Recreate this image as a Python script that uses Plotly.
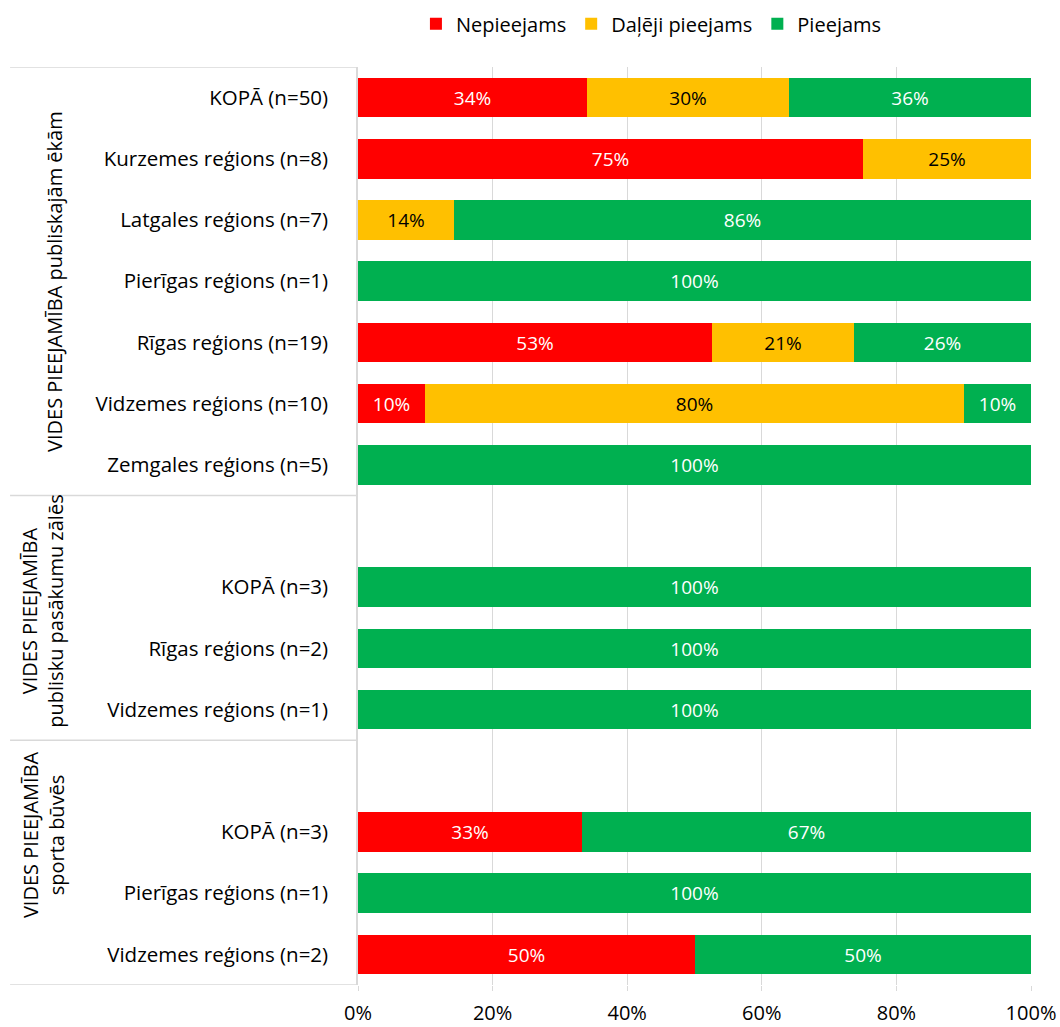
import plotly.graph_objects as go

FONT = "Open Sans"

# ---- data ----
group1_labels = ["KOPĀ (n=50)", "Kurzemes reģions (n=8)", "Latgales reģions (n=7)",
                 "Pierīgas reģions (n=1)", "Rīgas reģions (n=19)", "Vidzemes reģions (n=10)",
                 "Zemgales reģions (n=5)"]
group1_nep = [34, 75, 0, 0, 52.6, 10, 0]
group1_dal = [30, 25, 14.3, 0, 21.1, 80, 0]
group1_pie = [36, 0, 85.7, 100, 26.3, 10, 100]

group2_labels = ["KOPĀ (n=3)", "Rīgas reģions (n=2)", "Vidzemes reģions (n=1)"]
group2_nep = [0, 0, 0]
group2_dal = [0, 0, 0]
group2_pie = [100, 100, 100]

group3_labels = ["KOPĀ (n=3)", "Pierīgas reģions (n=1)", "Vidzemes reģions (n=2)"]
group3_nep = [33.3, 0, 50]
group3_dal = [0, 0, 0]
group3_pie = [66.7, 100, 50]

group_titles = ["VIDES PIEEJAMĪBA publiskajām ēkām",
                "VIDES PIEEJAMĪBA<br>publisku pasākumu zālēs",
                "VIDES PIEEJAMĪBA<br>sporta būvēs"]

series_names = ["Nepieejams", "Daļēji pieejams", "Pieejams"]
series_colors = ["#FF0000", "#FFC000", "#00B050"]
text_colors = ["white", "black", "white"]
x_ticks = [0, 20, 40, 60, 80, 100]
x_ticktext = ["0%", "20%", "40%", "60%", "80%", "100%"]

# ---- layout helpers (positions only) ----
title_y = [3.0, 8.4, 12.05]
title_x = [-0.452, -0.468, -0.468]

groups = [
    (group1_labels, [group1_nep, group1_dal, group1_pie], 0),
    (group2_labels, [group2_nep, group2_dal, group2_pie], 1),
    (group3_labels, [group3_nep, group3_dal, group3_pie], 1),
]
ypos, ylab = [], []
vals = [[], [], []]
bounds = [-0.5]
cur = 0
for labels, series, blank in groups:
    cur += blank
    for i, lab in enumerate(labels):
        ypos.append(cur)
        ylab.append(lab)
        for s in range(3):
            vals[s].append(series[s][i])
        cur += 1
    bounds.append(cur - 0.5)

fig = go.Figure()
for s in range(3):
    txt = [f"{round(v)}%" if v > 0 else "" for v in vals[s]]
    fig.add_trace(go.Bar(
        y=ypos, x=vals[s], orientation="h", name=series_names[s],
        marker=dict(color=series_colors[s], line=dict(width=0)),
        text=txt, textposition="inside", insidetextanchor="middle",
        textfont=dict(color=text_colors[s], size=19, family=FONT),
        width=0.65,
    ))

shapes = []
for b in bounds:
    shapes.append(dict(type="line", xref="paper", yref="y", x0=-0.517, x1=0, y0=b, y1=b,
                       line=dict(color="#D9D9D9", width=1.5)))

annotations = []
for t, tx, ty in zip(group_titles, title_x, title_y):
    annotations.append(dict(xref="paper", yref="y", x=tx, y=ty,
                            text=t, textangle=-90, showarrow=False,
                            font=dict(size=20, family=FONT, color="black"),
                            xanchor="center", yanchor="middle"))

fig.update_layout(
    barmode="stack",
    width=1060, height=1027,
    margin=dict(l=358, r=29, t=67, b=42, autoexpand=False),
    paper_bgcolor="white", plot_bgcolor="white",
    font=dict(family=FONT, size=20, color="black"),
    legend=dict(orientation="h", x=0.436, xanchor="center", y=1.047, yanchor="middle",
                font=dict(size=20, family=FONT), traceorder="normal", itemwidth=30),
    shapes=shapes, annotations=annotations,
    xaxis=dict(range=[0, 100], tickvals=x_ticks, ticktext=x_ticktext,
               showgrid=True, gridcolor="#D9D9D9", gridwidth=1.3, zeroline=False,
               ticks="outside", ticklen=5, tickcolor="#D9D9D9", automargin=False,
               ticklabelstandoff=5,
               tickfont=dict(size=20, family=FONT)),
    yaxis=dict(tickvals=ypos, ticktext=ylab, range=[14.5, -0.5], automargin=False,
               showline=True, linecolor="#D9D9D9", linewidth=1.5, showgrid=False,
               zeroline=False, ticklabelstandoff=24,
               tickfont=dict(size=20.5, family=FONT)),
    bargap=0,
)
fig.write_html("out.html", config={"displayModeBar": False},
               post_script="document.body.style.margin='0';document.body.style.overflow='hidden';")
